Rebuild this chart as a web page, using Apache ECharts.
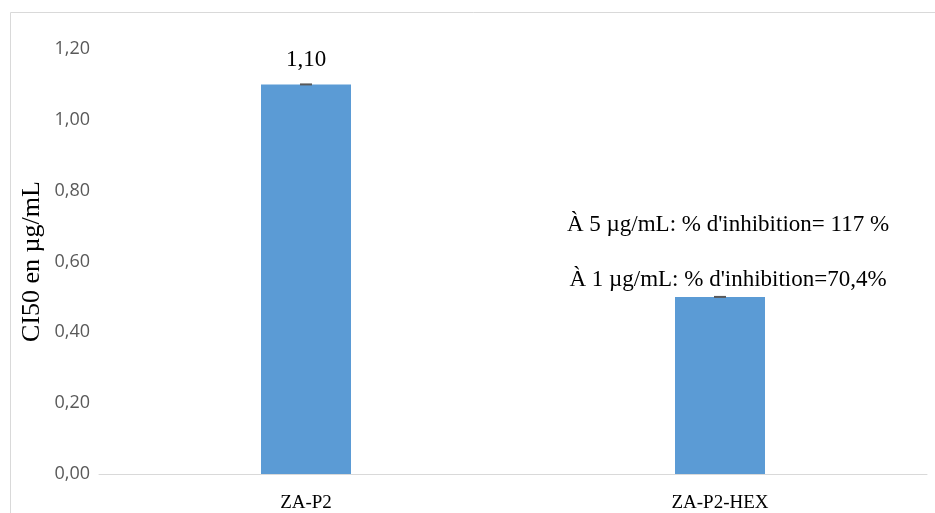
<!DOCTYPE html>
<html lang="fr" style="height: 100%">
<head>
  <meta charset="utf-8">
  <title>CI50</title>
  <script src="https://cdn.jsdelivr.net/npm/echarts@6/dist/echarts.min.js"></script>
</head>
<body style="height: 100%; margin: 0; background: #fff">
  <div id="chart" style="width: 935px; height: 513px"></div>
  <script>
    var categories = ['ZA-P2', 'ZA-P2-HEX'];
    var ci50 = [1.10, 0.50];
    var barLabels = ['1,10', "À 5 µg/mL: % d'inhibition= 117 %\nÀ 1 µg/mL: % d'inhibition=70,4%"];
    var yTicks = [0, 0.2, 0.4, 0.6, 0.8, 1.0, 1.2];

    var chart = echarts.init(document.getElementById('chart'));
    var serif = '"Liberation Serif", "DejaVu Serif", serif';

    var option = {
      animation: false,
      graphic: [{
        type: 'rect',
        shape: { x: 10.5, y: 12.5, width: 940, height: 520 },
        style: { fill: 'none', stroke: '#d9d9d9', lineWidth: 1 },
        silent: true
      }],
      grid: { left: 99, right: 8, top: 49, bottom: 39 },
      xAxis: {
        type: 'category',
        data: categories,
        axisLine: { lineStyle: { color: '#d9d9d9', width: 1 } },
        axisTick: { show: false },
        axisLabel: { color: '#000', fontFamily: serif, fontSize: 19, margin: 20 }
      },
      yAxis: {
        type: 'value',
        min: yTicks[0], max: yTicks[yTicks.length - 1], interval: 0.2,
        name: 'CI50 en µg/mL',
        nameLocation: 'middle',
        nameGap: 54,
        nameMoveOverlap: false,
        nameTextStyle: { color: '#000', fontFamily: serif, fontSize: 26 },
        axisLine: { show: false },
        axisTick: { show: false },
        splitLine: { show: false },
        axisLabel: {
          color: '#595959', fontFamily: '"Open Sans", sans-serif', fontSize: 18, margin: 9,
          formatter: function (v) { return v.toFixed(2).replace('.', ','); }
        }
      },
      series: [
        {
          type: 'bar',
          barWidth: 90,
          itemStyle: { color: '#5b9bd5' },
          data: ci50.map(function (v, i) {
            return {
              value: v,
              label: {
                show: true,
                position: 'top',
                distance: i === 0 ? 12 : 8,
                offset: i === 0 ? [0, 0] : [8, 19],
                formatter: barLabels[i],
                color: '#000',
                fontFamily: serif,
                fontSize: 23,
                lineHeight: i === 0 ? 24 : 55
              }
            };
          })
        },
        {
          type: 'custom',
          z: 5,
          renderItem: function (params, api) {
            var p = api.coord([api.value(0), api.value(1)]);
            return {
              type: 'line',
              shape: { x1: p[0] - 6, y1: p[1], x2: p[0] + 6, y2: p[1] },
              style: { stroke: '#595959', lineWidth: 2 }
            };
          },
          data: ci50.map(function (v, i) { return [i, v]; })
        }
      ]
    };
    chart.setOption(option);
  </script>
</body>
</html>
